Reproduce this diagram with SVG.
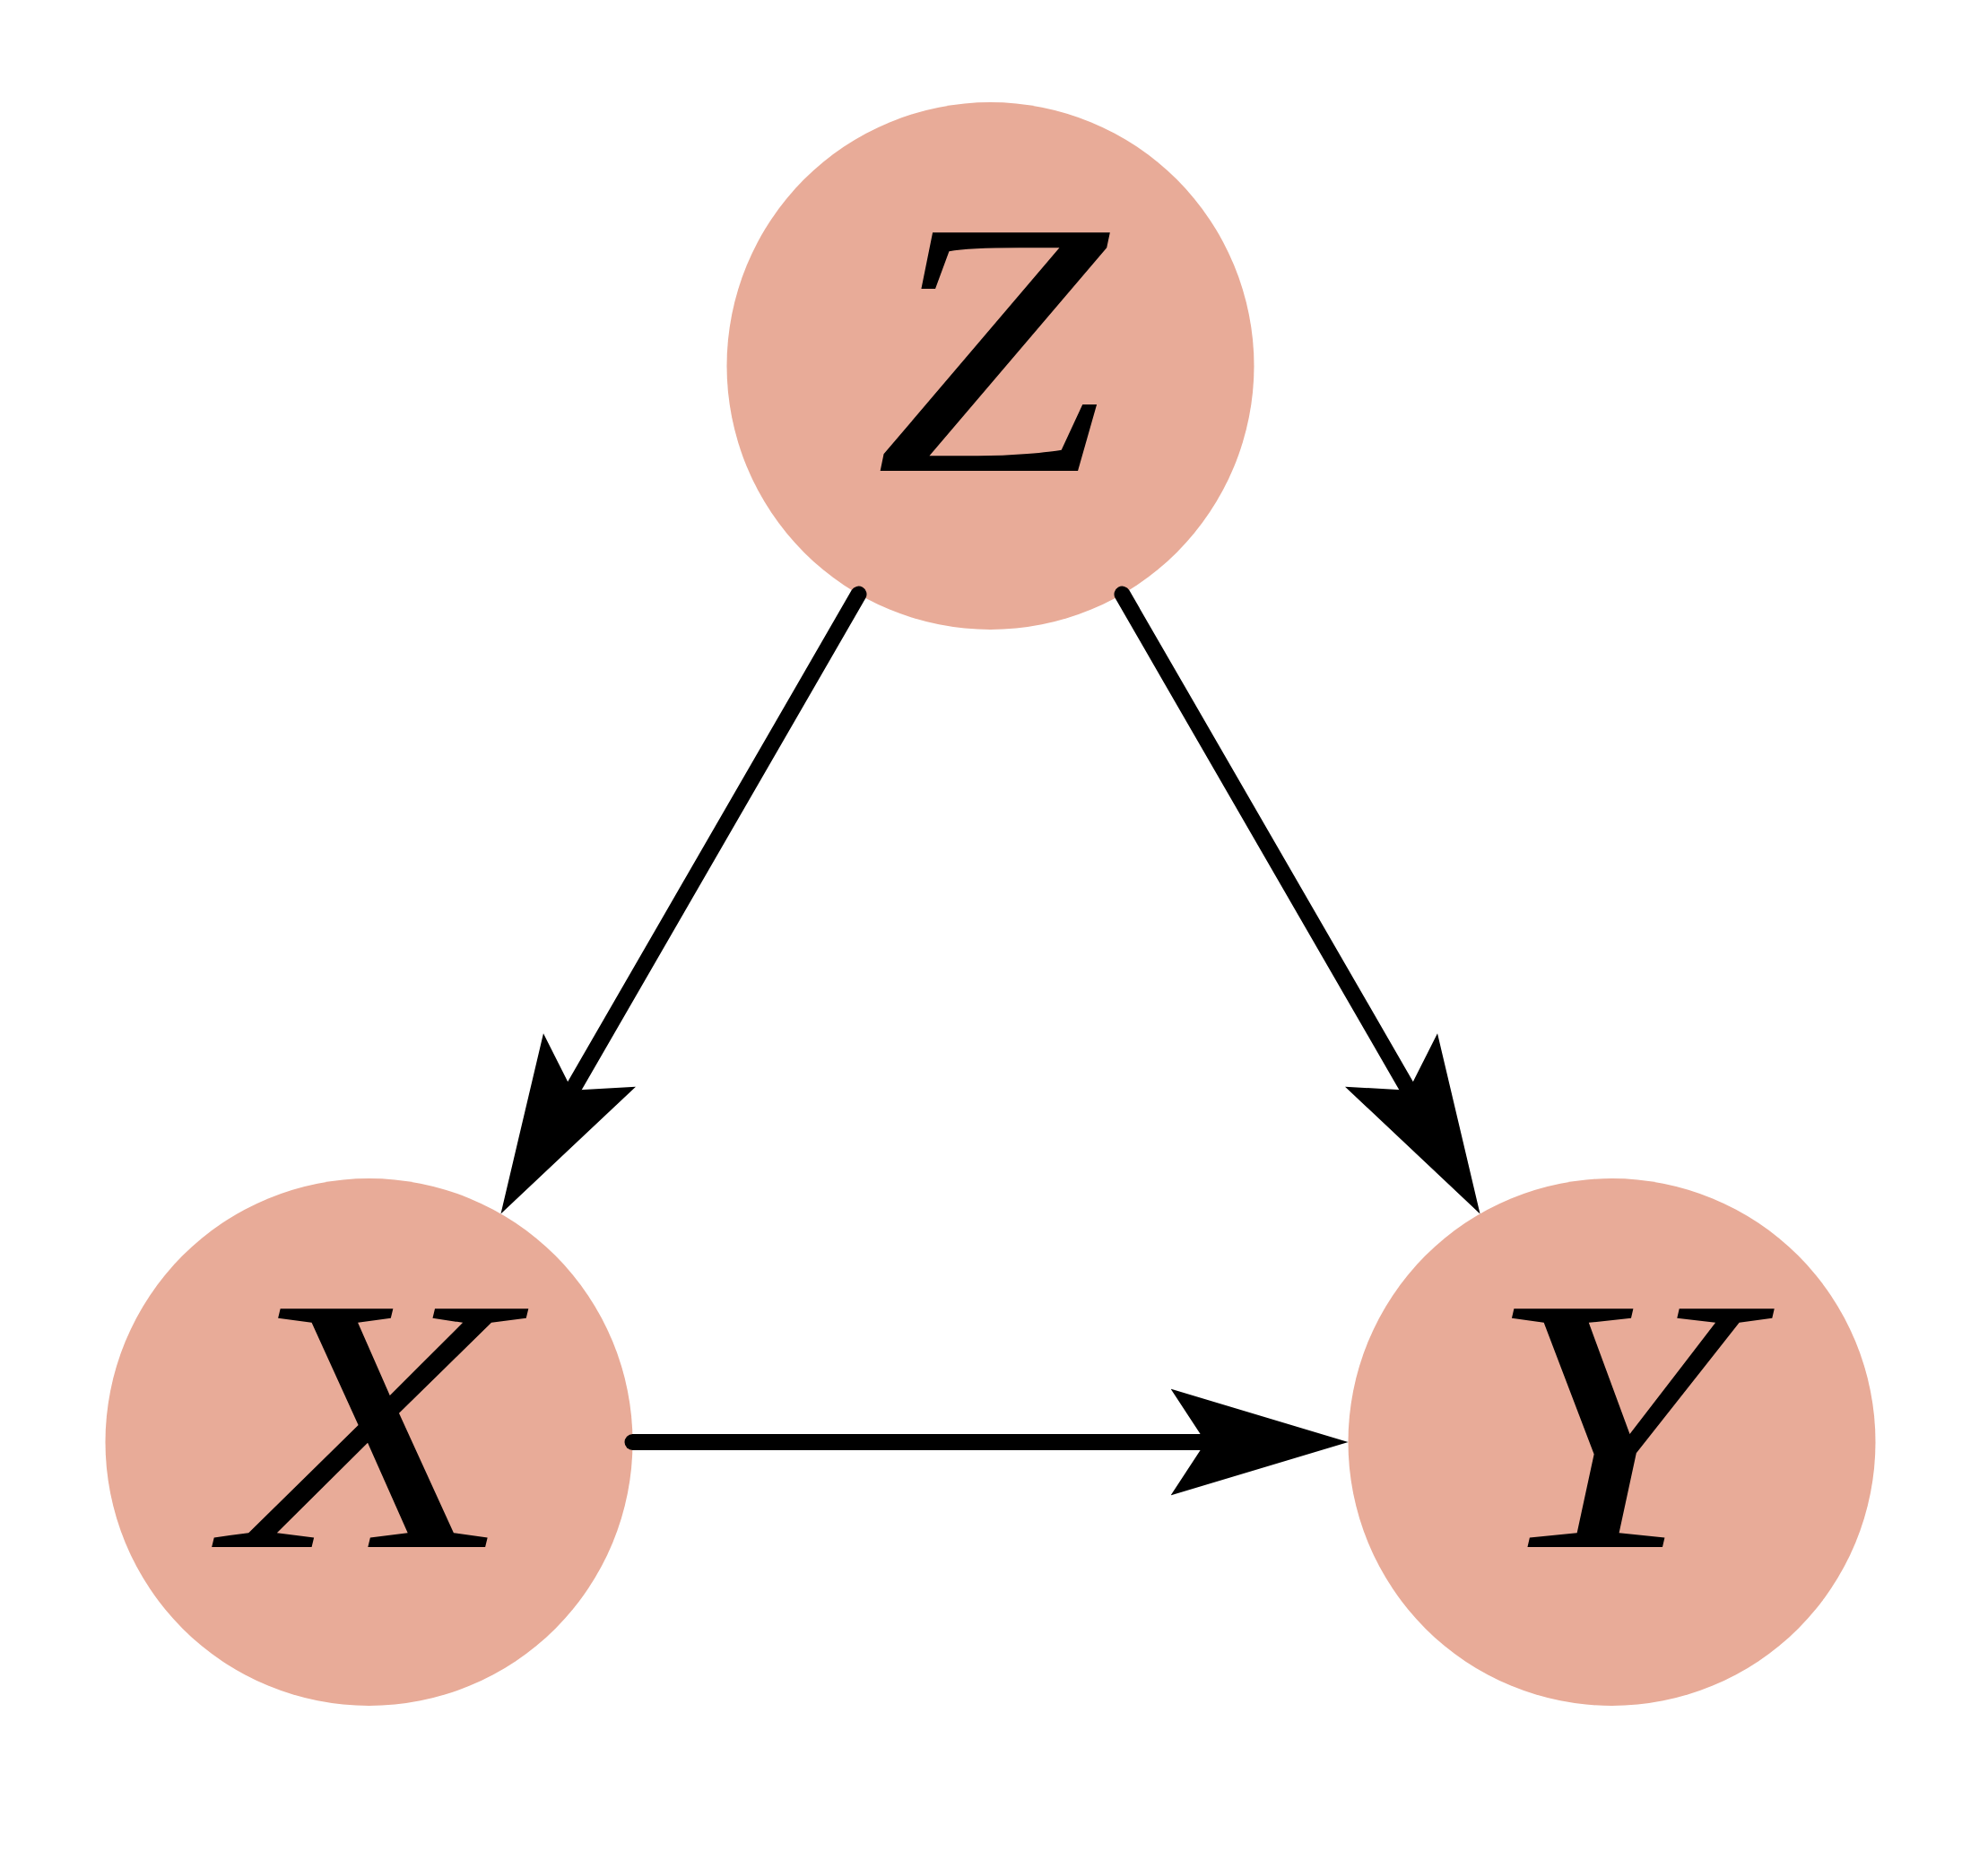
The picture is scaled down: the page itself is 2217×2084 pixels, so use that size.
<svg xmlns="http://www.w3.org/2000/svg" width="2217" height="2084" viewBox="0 0 2217 2084">
<style>
.node{fill:#E8AB98;}
.lbl{font-family:"Liberation Serif","DejaVu Serif",serif;font-style:italic;font-size:406px;fill:#000;text-anchor:middle;}
.edge{stroke:#000;stroke-width:18;stroke-linecap:round;fill:none;marker-end:url(#ah);}
</style>
<defs>
<marker id="ah" markerUnits="userSpaceOnUse" viewBox="0 -60 200 120" markerWidth="200" markerHeight="120" refX="39" refY="0" orient="auto">
<path d="M198,0 L0,-59.5 L39,0 L0,59.5 Z" fill="#000"/>
</marker>
</defs>
<rect width="2217" height="2084" fill="#fff"/>
<g id="node-Z">
<circle class="node" cx="1104.5" cy="408" r="294"/>
<text class="lbl" x="1105" y="525" textLength="258" lengthAdjust="spacingAndGlyphs">Z</text>
</g>
<g id="node-X">
<circle class="node" cx="411.5" cy="1608" r="294"/>
<text class="lbl" x="413" y="1725" textLength="319" lengthAdjust="spacingAndGlyphs">X</text>
</g>
<g id="node-Y">
<circle class="node" cx="1797.5" cy="1608" r="294"/>
<text class="lbl" x="1796" y="1725" textLength="277" lengthAdjust="spacingAndGlyphs">Y</text>
</g>
<g id="connectors">
<line class="edge" x1="957.5" y1="662.6" x2="638" y2="1215.7"/>
<line class="edge" x1="1251.5" y1="662.6" x2="1571" y2="1215.7"/>
<line class="edge" x1="705.5" y1="1608" x2="1344.5" y2="1608"/>
</g>
</svg>
